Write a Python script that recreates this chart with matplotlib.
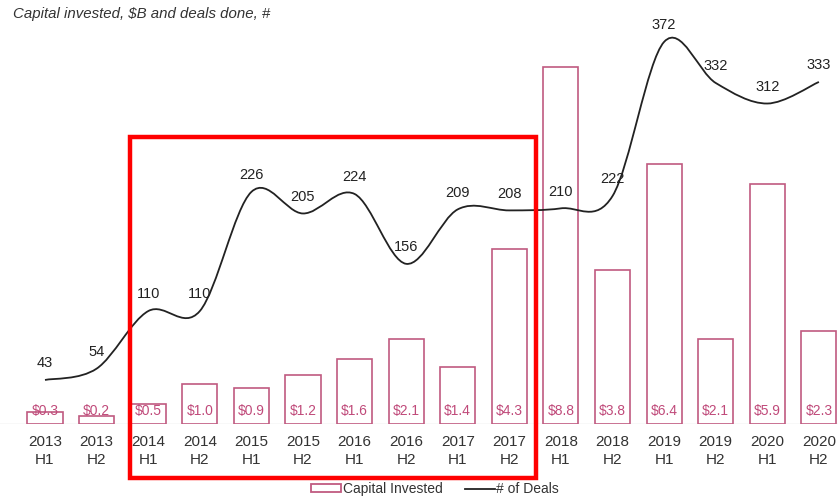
import numpy as np
import matplotlib.pyplot as plt
from matplotlib.path import Path
from matplotlib.patches import PathPatch, Rectangle
from matplotlib.lines import Line2D

plt.rcParams["font.family"] = ["Liberation Sans", "DejaVu Sans"]

# Capital invested ($B) and number of deals per half-year
periods = ["2013\nH1", "2013\nH2", "2014\nH1", "2014\nH2", "2015\nH1", "2015\nH2",
           "2016\nH1", "2016\nH2", "2017\nH1", "2017\nH2", "2018\nH1", "2018\nH2",
           "2019\nH1", "2019\nH2", "2020\nH1", "2020\nH2"]
capital = [0.3, 0.2, 0.5, 1.0, 0.9, 1.2, 1.6, 2.1, 1.4, 4.3, 8.8, 3.8, 6.4, 2.1, 5.9, 2.3]
deals = [43, 54, 110, 110, 226, 205, 224, 156, 209, 208, 210, 222, 372, 332, 312, 333]

bar_edge = "#C05A80"
bar_text = "#C04A7A"
text_col = "#333333"

fig = plt.figure(figsize=(8.38, 4.99), dpi=100)
ax = fig.add_axes([0.0, 0.150, 1.0, 0.790])
ax2 = ax.twinx()

x = np.arange(len(periods))
ax.bar(x, capital, width=0.68, facecolor="white", edgecolor=bar_edge, linewidth=1.2, zorder=2)
for xi, v in zip(x, capital):
    ax.text(xi, 0.33, f"${v:.1f}", ha="center", va="center", fontsize=10,
            color=bar_text, zorder=3)

ax.axhline(0, color="#dddddd", lw=1, zorder=1)
ax.set_xlim(-0.872, 15.37)
ax.set_ylim(0, 9.70)
ax2.set_ylim(0, 383.6)

# smooth line (Catmull-Rom through the data points, drawn as bezier path)
pts = np.column_stack([x, deals]).astype(float)
ext = np.vstack([pts[0], pts, pts[-1]])
verts = [tuple(pts[0])]
codes = [Path.MOVETO]
for i in range(1, len(ext) - 2):
    p0, p1, p2, p3 = ext[i - 1], ext[i], ext[i + 1], ext[i + 2]
    c1 = p1 + (p2 - p0) / 6
    c2 = p2 - (p3 - p1) / 6
    verts += [tuple(c1), tuple(c2), tuple(p2)]
    codes += [Path.CURVE4] * 3
ax2.add_patch(PathPatch(Path(verts, codes), facecolor="none", edgecolor="#222222",
                        lw=1.3, zorder=4))
for xi, d in zip(x, deals):
    ax2.annotate(str(d), (xi, d), xytext=(0, 12), textcoords="offset points",
                 ha="center", va="center", fontsize=10.5, color="#222222")

ax.set_xticks(x)
ax.set_xticklabels(periods, fontsize=11, color=text_col, linespacing=1.35)
ax.tick_params(axis="x", length=0, pad=8)
ax.set_yticks([])
ax2.set_yticks([])
for a in (ax, ax2):
    for s in a.spines.values():
        s.set_visible(False)
    a.patch.set_visible(False)

fig.text(0.015, 0.972, "Capital invested, $B and deals done, #", fontsize=10.8,
         style="italic", color=text_col, va="center", ha="left")

# red highlight box
fig.patches.append(Rectangle((130 / 838, 21 / 499), 406 / 838, 341 / 499,
                             transform=fig.transFigure, fill=False,
                             edgecolor="#FF0000", lw=3.2, zorder=10))

handles = [Rectangle((0, 0), 1, 1, facecolor="white", edgecolor=bar_edge, lw=1.3),
           Line2D([0], [0], color="#222222", lw=1.3)]
fig.legend(handles, ["Capital Invested", "# of Deals"], loc="center",
           bbox_to_anchor=(0.519, 0.02), ncol=2, frameon=False, fontsize=10,
           handlelength=2.2, handleheight=0.5, handletextpad=0.1, columnspacing=1.6,
           labelcolor=text_col)

fig.savefig("out.png", dpi=100)
